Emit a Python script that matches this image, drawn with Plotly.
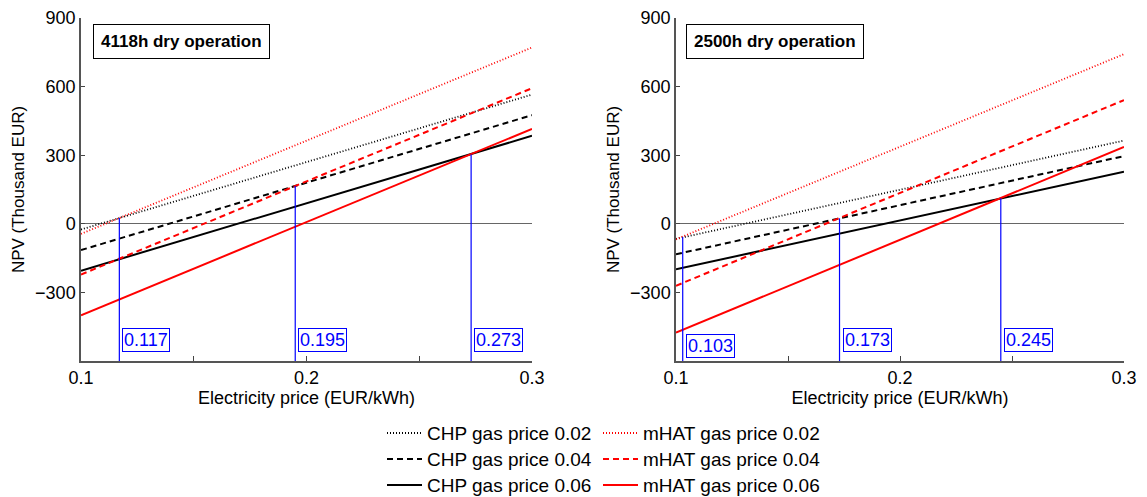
import plotly.graph_objects as go

# Electricity price endpoints (EUR/kWh)
price = [0.1, 0.3]

# Left panel: 4118h dry operation (NPV, thousand EUR)
L_chp_002 = [-25, 565]
L_chp_004 = [-115, 475]
L_chp_006 = [-205, 385]
L_mhat_002 = [-44, 771]
L_mhat_004 = [-222, 593]
L_mhat_006 = [-400, 415]
L_be_price = [0.117, 0.195, 0.273]
L_be_npv = [25, 165, 303]

# Right panel: 2500h dry operation
R_chp_002 = [-66, 364]
R_chp_004 = [-133, 296]
R_chp_006 = [-199, 228]
R_mhat_002 = [-68, 742]
R_mhat_004 = [-271, 541]
R_mhat_006 = [-476, 336]
R_be_price = [0.103, 0.173, 0.245]
R_be_npv = [-58, 24, 112]

panel_titles = ["4118h dry operation", "2500h dry operation"]
labels_chp = ["CHP gas price 0.02", "CHP gas price 0.04", "CHP gas price 0.06"]
labels_mhat = ["mHAT gas price 0.02", "mHAT gas price 0.04", "mHAT gas price 0.06"]

FONT = "Liberation Sans, Arial, Helvetica, sans-serif"
dashes = ["1px,2px", "6px,4px", "solid"]
widths = [1.8, 2, 2]

# page body has an 8px margin: shrink the figure and map page pixels to paper
OFF = 8
W, H = 1147 - OFF, 497 - OFF


def px_x(p):
    return (p - OFF) / W


def px_y(p):
    return 1 - (p - OFF) / H


fig = go.Figure()

panels = [
    ("x", "y", [L_chp_002, L_chp_004, L_chp_006], [L_mhat_002, L_mhat_004, L_mhat_006]),
    ("x2", "y2", [R_chp_002, R_chp_004, R_chp_006], [R_mhat_002, R_mhat_004, R_mhat_006]),
]

for pi, (xa, ya, chp, mhat) in enumerate(panels):
    for i in range(3):
        fig.add_trace(go.Scatter(
            x=price, y=chp[i], mode="lines", xaxis=xa, yaxis=ya,
            name=labels_chp[i], showlegend=False,
            line=dict(color="black", width=widths[i], dash=dashes[i])))
    for i in range(3):
        fig.add_trace(go.Scatter(
            x=price, y=mhat[i], mode="lines", xaxis=xa, yaxis=ya,
            name=labels_mhat[i], showlegend=False,
            line=dict(color="red", width=widths[i], dash=dashes[i])))

Y_MIN, Y_MAX = -600, 900

shapes = []
annotations = []
for xa, ya, bx, by in [("x", "y", L_be_price, L_be_npv), ("x2", "y2", R_be_price, R_be_npv)]:
    for k, (px, py) in enumerate(zip(bx, by)):
        shapes.append(dict(type="line", xref=xa, yref=ya, x0=px, x1=px, y0=Y_MIN, y1=py,
                           line=dict(color="#0000ff", width=1.2)))
        low = (xa == "x2" and k == 0)
        annotations.append(dict(
            x=px, y=(-536 if low else -510), xref=xa, yref=ya, text=f"{px:.3f}",
            showarrow=False, xanchor="left", yanchor="middle", xshift=3,
            font=dict(family=FONT, size=18, color="blue"),
            bordercolor="blue", borderwidth=1, borderpad=1, bgcolor="white"))

box_x = [181, 775]
for t, bxp in zip(panel_titles, box_x):
    annotations.append(dict(
        x=px_x(bxp), y=px_y(41), xref="paper", yref="paper", text=f"<b>{t}</b>",
        showarrow=False, xanchor="center", yanchor="middle",
        font=dict(family=FONT, size=17, color="black"),
        bordercolor="black", borderwidth=1, borderpad=7, bgcolor="white"))

# legend (drawn as line samples + labels, two columns)
leg_cols = [(387, labels_chp, "black"), (603, labels_mhat, "red")]
leg_rows = [433, 459, 485]
for x0, labs, col in leg_cols:
    for i, (ry, lab) in enumerate(zip(leg_rows, labs)):
        shapes.append(dict(type="line", xref="paper", yref="paper",
                           x0=px_x(x0), x1=px_x(x0 + 35), y0=px_y(ry), y1=px_y(ry),
                           line=dict(color=col, width=widths[i], dash=dashes[i])))
        annotations.append(dict(
            x=px_x(x0 + 38), y=px_y(ry), xref="paper", yref="paper", text=lab,
            showarrow=False, xanchor="left", yanchor="middle",
            font=dict(family=FONT, size=19, color="black")))

ydom = [px_y(361), px_y(18)]
xticks = [0.1, 0.15, 0.2, 0.25, 0.3]
xtext = ["0.1", "", "0.2", "", "0.3"]
yticks = [-300, 0, 300, 600, 900]

common_x = dict(range=[0.1, 0.3], tickvals=xticks, ticktext=xtext, ticks="inside",
                ticklen=5, tickcolor="#444", showline=True, linecolor="#555", linewidth=1.5,
                showgrid=False, zeroline=False, mirror=False, automargin=False,
                ticklabelstandoff=0, ticklabeloverflow="allow",
                tickfont=dict(family=FONT, size=18, color="black"),
                title=dict(text="Electricity price (EUR/kWh)",
                           font=dict(family=FONT, size=18, color="black"), standoff=4))
common_y = dict(range=[Y_MIN, Y_MAX], tickvals=yticks, ticks="inside", ticklen=4,
                tickcolor="#444", showline=True, linecolor="#555", linewidth=1.5,
                showgrid=False, zeroline=True, zerolinecolor="#666", zerolinewidth=1,
                automargin=False, ticklabeloverflow="allow",
                tickfont=dict(family=FONT, size=18, color="black"),
                title=dict(text="NPV (Thousand EUR)",
                           font=dict(family=FONT, size=17, color="black"), standoff=6))

fig.update_layout(
    width=W, height=H,
    margin=dict(l=0, r=0, t=0, b=0),
    paper_bgcolor="white", plot_bgcolor="white",
    xaxis=dict(domain=[px_x(81), px_x(532)], anchor="y", **common_x),
    yaxis=dict(domain=ydom, anchor="x", **common_y),
    xaxis2=dict(domain=[px_x(676), px_x(1124)], anchor="y2", **common_x),
    yaxis2=dict(domain=ydom, anchor="x2", **common_y),
    shapes=shapes, annotations=annotations,
    showlegend=False,
)

fig.write_html("out.html")
